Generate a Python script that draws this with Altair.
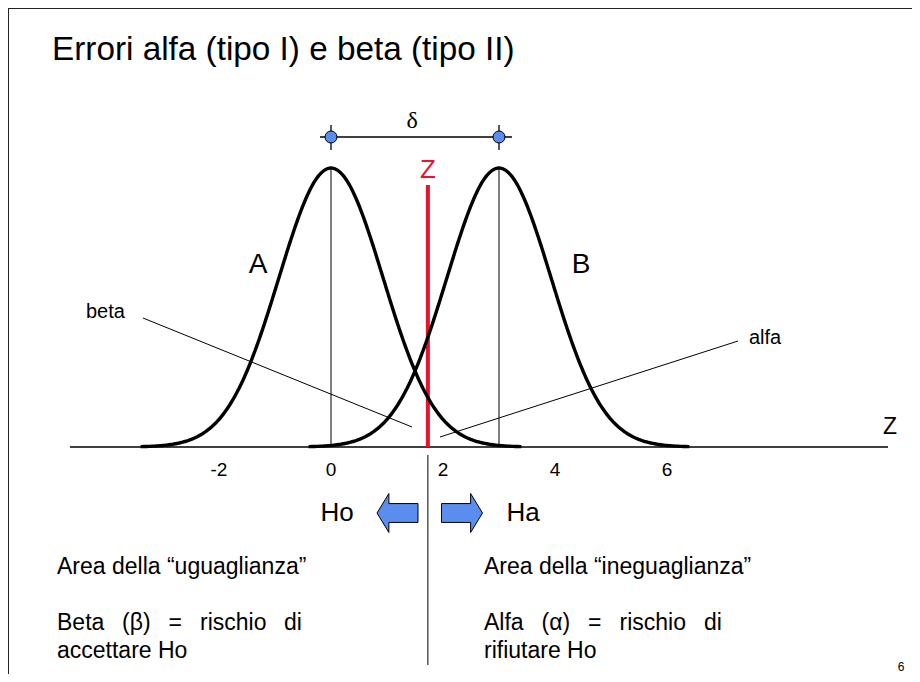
import altair as alt
import numpy as np
import pandas as pd

# ---------------- data ----------------
title_text = "Errori alfa (tipo I) e beta (tipo II)"
curve_names = ["A", "B"]
curve_means = [0.0, 3.0]
curve_sd = 0.93
z_crit = 1.73
tick_values = [-2, 0, 2, 4, 6]
axis_name = "Z"
delta_label = "δ"
side_left = ["Ho", "Area della “uguaglianza”", "Beta (β) = rischio di", "accettare Ho"]
side_right = ["Ha", "Area della “ineguaglianza”", "Alfa (α) = rischio di", "rifiutare Ho"]
pointer_names = ["beta", "alfa"]
page_number = "6"

# ---------------- layout ----------------
W, H = 904, 666
PX0, PXS = 331, 56     # screen x of z=0 and pixels per unit
PY0, PYS = 447, 279    # screen y of baseline and pixels per unit height
# justified first lines: left edge of each word (screen px)
word_x_left = [57, 122, 168.5, 200, 284]
word_x_right = [484, 541.5, 588, 619.5, 704]


def X(px):
    return (px - PX0) / PXS


def Y(py):
    return (PY0 - py) / PYS


xs = alt.Scale(domain=[X(8), X(8 + W)], nice=False, zero=False)
ys = alt.Scale(domain=[Y(8 + H), Y(8)], nice=False, zero=False)
BLUE = "#5B8DEF"
RED = "#E8122D"
FONT = "Liberation Sans"


def enc_xy(**kw):
    return dict(x=alt.X("x:Q", scale=xs, axis=None), y=alt.Y("y:Q", scale=ys, axis=None), **kw)


# curves
rows = []
for name, mu in zip(curve_names, curve_means):
    for d in np.linspace(-3.4, 3.4, 241):
        rows.append({"g": name, "x": mu + d, "y": float(np.exp(-d * d / (2 * curve_sd ** 2)))})
curves = alt.Chart(pd.DataFrame(rows)).mark_line(color="black", strokeWidth=3.4).encode(
    **enc_xy(detail="g:N", order="x:Q"))

# straight segments
segs = pd.DataFrame([
    {"x": X(70), "x2": X(888), "y": 0, "y2": 0, "w": 1.3, "c": "black"},           # baseline
    {"x": curve_means[0], "x2": curve_means[0], "y": 0, "y2": 1, "w": 1, "c": "black"},
    {"x": curve_means[1], "x2": curve_means[1], "y": 0, "y2": 1, "w": 1, "c": "black"},
    {"x": z_crit, "x2": z_crit, "y": 0, "y2": Y(185), "w": 4, "c": RED},
    {"x": X(320), "x2": X(512), "y": Y(137), "y2": Y(137), "w": 1.3, "c": "black"},  # delta bar
    {"x": curve_means[0], "x2": curve_means[0], "y": Y(125), "y2": Y(150), "w": 1.3, "c": "black"},
    {"x": curve_means[1], "x2": curve_means[1], "y": Y(125), "y2": Y(150), "w": 1.3, "c": "black"},
    {"x": X(143), "x2": X(412), "y": Y(318), "y2": Y(427), "w": 1, "c": "black"},   # beta pointer
    {"x": X(738), "x2": X(440), "y": Y(341), "y2": Y(437), "w": 1, "c": "black"},   # alfa pointer
    {"x": z_crit, "x2": z_crit, "y": Y(455), "y2": Y(665), "w": 1, "c": "black"},  # divider
])
lines = alt.Chart(segs).mark_rule().encode(
    **enc_xy(x2="x2:Q", y2="y2:Q",
             strokeWidth=alt.StrokeWidth("w:Q", scale=None, legend=None),
             color=alt.Color("c:N", scale=None, legend=None)))

# border (top and left)
border_top = alt.Chart(pd.DataFrame({"a": [0]})).mark_rule(color="#222", strokeWidth=2).encode(
    x=alt.value(0), x2=alt.value(W), y=alt.value(0))
border_left = alt.Chart(pd.DataFrame({"a": [0]})).mark_rule(color="#222", strokeWidth=2).encode(
    x=alt.value(0), y=alt.value(0), y2=alt.value(H))

# delta end circles
dots = alt.Chart(pd.DataFrame({"x": curve_means, "y": [Y(137)] * 2})).mark_point(
    shape="circle", size=144, filled=True, fill=BLUE, stroke="black", strokeWidth=1, opacity=1
).encode(**enc_xy())

# block arrows
left_path = "M -1 0 L -0.42 -0.95 L -0.42 -0.46 L 1 -0.46 L 1 0.46 L -0.42 0.46 L -0.42 0.95 Z"
right_path = "M 1 0 L 0.42 -0.95 L 0.42 -0.46 L -1 -0.46 L -1 0.46 L 0.42 0.46 L 0.42 0.95 Z"
arrow_l = alt.Chart(pd.DataFrame({"x": [X(397.5)], "y": [Y(513)]})).mark_point(
    shape=left_path, size=1681, filled=True, fill=BLUE, stroke="black", strokeWidth=1, opacity=1
).encode(**enc_xy())
arrow_r = alt.Chart(pd.DataFrame({"x": [X(462)], "y": [Y(513)]})).mark_point(
    shape=right_path, size=1681, filled=True, fill=BLUE, stroke="black", strokeWidth=1, opacity=1
).encode(**enc_xy())


def text_layer(items, align, font=FONT):
    df = pd.DataFrame(items, columns=["txt", "x", "y", "size", "color"])
    return alt.Chart(df).mark_text(align=align, baseline="middle", font=font).encode(
        **enc_xy(text="txt:N",
                 size=alt.Size("size:Q", scale=None, legend=None),
                 color=alt.Color("color:N", scale=None, legend=None)))


justified = []
for sentence, xs_list in ((side_left[2], word_x_left), (side_right[2], word_x_right)):
    for word, px in zip(sentence.split(" "), xs_list):
        justified.append((word, X(px), Y(623), 23, "black"))

left_texts = text_layer([
    (title_text, X(52), Y(50), 33.3, "black"),
    (side_left[1], X(57), Y(567), 23, "black"),
    (side_left[3], X(57), Y(651), 23, "black"),
    (side_right[1], X(484), Y(567), 23, "black"),
    (side_right[3], X(484), Y(651), 23, "black"),
    (pointer_names[0], X(86), Y(312), 20, "black"),
    (pointer_names[1], X(749), Y(338), 20, "black"),
] + justified, "left")

center_texts = text_layer(
    [(curve_names[0], X(258), Y(265), 28, "black"),
     (curve_names[1], X(581), Y(265), 28, "black"),
     ("Z", z_crit, Y(170), 26, RED),
     (axis_name, X(890), Y(427), 23, "black"),
     (side_left[0], X(337), Y(513), 26, "black"),
     (side_right[0], X(523), Y(513), 26, "black"),
     (page_number, X(901), Y(667), 12, "black")]
    + [(str(t), t, Y(470), 19, "black") for t in tick_values],
    "center")

delta_text = text_layer([(delta_label, (curve_means[0] + curve_means[1]) / 2 - 0.05, Y(121), 24, "black")],
                        "center", font="Liberation Serif")

chart = alt.layer(
    border_top, border_left, lines, curves, dots, arrow_l, arrow_r,
    left_texts, center_texts, delta_text
).properties(
    width=W, height=H, padding=0, autosize=alt.AutoSizeParams(type="none"), background="white"
).configure_view(stroke=None)

chart.save("out.html", embed_options={"renderer": "svg", "actions": False})
